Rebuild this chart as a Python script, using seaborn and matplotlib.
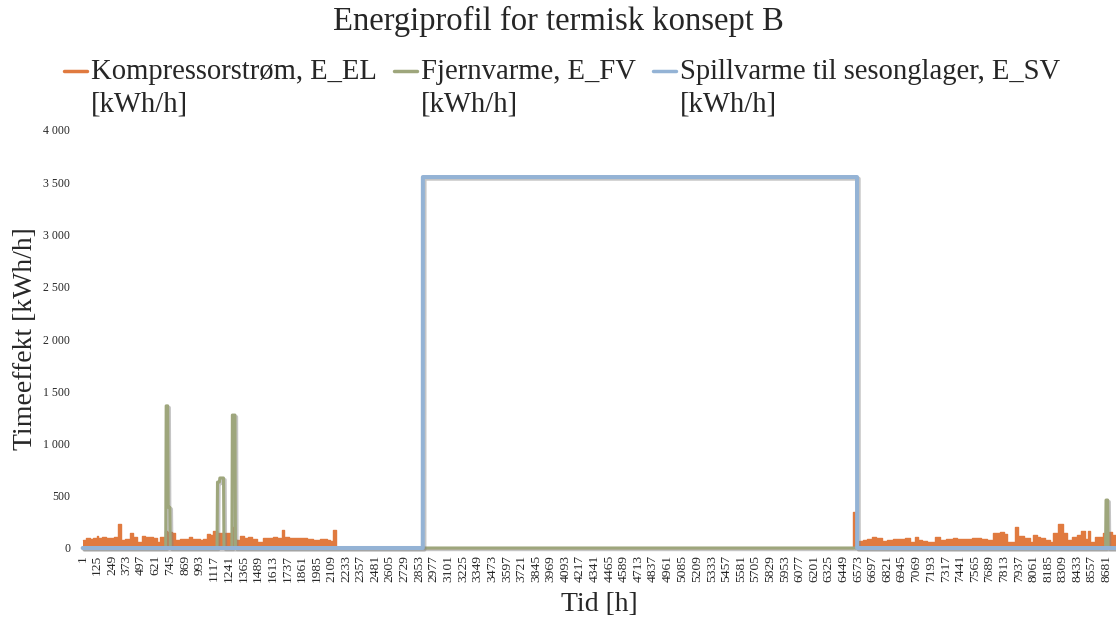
import matplotlib
matplotlib.use("Agg")
import matplotlib.pyplot as plt
import matplotlib.patheffects as pe
from matplotlib.legend_handler import HandlerLine2D
from matplotlib.ticker import FuncFormatter
import seaborn as sns
import pandas as pd

# ---------------- data ----------------
# Kompressorstrøm E_EL: envelope of the hourly profile (step values starting at given hour)
el_hours = [1, 30, 60, 90, 120, 135, 162, 200, 233, 270, 303, 326, 360, 402, 425, 464, 501,
            530, 560, 600, 628, 657, 699, 713, 755, 784, 830, 868, 900, 930, 995, 1020,
            1052, 1080, 1108, 1137, 1207, 1250, 1275, 1290, 1301, 1335, 1370, 1400, 1440,
            1476, 1532, 1570, 1617, 1650, 1688, 1707, 1750, 1787, 1843, 1900, 1956, 2010,
            2069, 2100, 2120, 2148, 6535, 6550, 6584, 6620, 6646, 6688, 6730, 6773, 6820,
            6872, 6920, 6971, 7013, 7056, 7084, 7120, 7155, 7225, 7268, 7320, 7381, 7409,
            7460, 7500, 7540, 7578, 7620, 7663, 7720, 7776, 7810, 7833, 7903, 7931, 7980,
            8030, 8059, 8090, 8115, 8160, 8200, 8228, 8271, 8313, 8341, 8384, 8430, 8468,
            8497, 8525, 8539, 8581, 8620, 8652, 8700, 8730, 8760]
el_values = [80, 92, 85, 96, 115, 93, 110, 98, 100, 105, 228, 77, 90, 147, 110, 60, 118,
             105, 110, 95, 60, 110, 160, 150, 140, 77, 90, 83, 110, 83, 77, 88,
             135, 125, 163, 140, 147, 120, 205, 90, 77, 118, 100, 105, 90,
             60, 93, 100, 110, 98, 170, 110, 95, 100, 93, 85, 77, 88,
             80, 70, 170, 0, 347, 0, 70, 80, 86, 102, 95, 70, 78,
             83, 90, 92, 60, 102, 76, 70, 60, 102, 76, 82, 92, 83,
             88, 90, 95, 99, 85, 76, 140, 156, 130, 60, 197, 118, 100,
             60, 124, 110, 92, 80, 60, 146, 226, 146, 76, 108, 120, 166,
             83, 166, 60, 102, 110, 140, 150, 120, 100]

# Fjernvarme E_FV
fv_hours = [1, 705, 709, 722, 726, 740, 744, 1140, 1144, 1160, 1164, 1195, 1199,
            1266, 1270, 1292, 1296, 8672, 8676, 8690, 8694, 8760]
fv_values = [0, 0, 1360, 1360, 390, 390, 0, 0, 631, 631, 670, 670, 0,
             0, 1272, 1272, 0, 0, 459, 459, 0, 0]

# Spillvarme til sesonglager E_SV
sv_hours = [1, 2884, 2885, 6565, 6566, 8760]
sv_values = [0, 0, 3550, 3550, 0, 0]

tick_hours = list(range(1, 8761, 124))
tick_labels = [str(h) for h in tick_hours]

series_names = ["Kompressorstrøm, E_EL\n[kWh/h]",
                "Fjernvarme, E_FV\n[kWh/h]",
                "Spillvarme til sesonglager, E_SV\n[kWh/h]"]
colors = ["#E07A3F", "#9EA67C", "#94B3D5"]

# ---------------- plot ----------------
sns.set_theme(style="white")
plt.rcParams["font.family"] = ["Liberation Serif", "DejaVu Serif"]

W, H = 1116, 621
fig = plt.figure(figsize=(W / 100, H / 100), dpi=100)
left_px, right_px, top_px, bot_px = 82.6, 1116, 130, 548
ax = fig.add_axes([left_px / W, 1 - bot_px / H, (right_px - left_px) / W, (bot_px - top_px) / H])

df_el = pd.DataFrame({"h": el_hours, "v": el_values})
df_fv = pd.DataFrame({"h": fv_hours, "v": fv_values})
df_sv = pd.DataFrame({"h": sv_hours, "v": sv_values})

shadow = [pe.SimpleLineShadow(offset=(1.2, -1.2), shadow_color="#7f7f7f", alpha=0.45), pe.Normal()]

ax.fill_between(df_el["h"], 0, df_el["v"], step="post", color=colors[0], linewidth=0, zorder=2)
sns.lineplot(data=df_el, x="h", y="v", ax=ax, estimator=None, sort=False,
             drawstyle="steps-post", color=colors[0], linewidth=1.0,
             label=series_names[0], clip_on=False, zorder=3)
sns.lineplot(data=df_fv, x="h", y="v", ax=ax, estimator=None, sort=False,
             color=colors[1], linewidth=2.2, label=series_names[1], clip_on=False,
             zorder=4, path_effects=shadow)
sns.lineplot(data=df_sv, x="h", y="v", ax=ax, estimator=None, sort=False,
             color=colors[2], linewidth=2.9, label=series_names[2], clip_on=False,
             zorder=5, path_effects=shadow)

ax.set_xlim(0.5, 8760.5)
ax.set_ylim(0, 4000)
ax.set_yticks(range(0, 4001, 500))
ax.yaxis.set_major_formatter(FuncFormatter(lambda v, p: f"{int(v):,}".replace(",", " ")))
ax.set_xticks(tick_hours)
ax.set_xticklabels(tick_labels, rotation=90, fontsize=9.7)
ax.tick_params(axis="y", labelsize=8.5, length=0, pad=9)
ax.tick_params(axis="x", length=0, pad=5)
for s in ax.spines.values():
    s.set_visible(False)
ax.grid(False)

ax.set_xlabel("Tid [h]", fontsize=20, labelpad=7)
ax.set_ylabel("Timeeffekt [kWh/h]", fontsize=20, labelpad=4)

fig.text(0.5, 1 - 21 / H, "Energiprofil for termisk konsept B", ha="center", va="center", fontsize=23.5)

handles, labels = ax.get_legend_handles_labels()
ax.get_legend().remove()


class UpLine(HandlerLine2D):
    def create_artists(self, legend, orig_handle, xdescent, ydescent, width, height, fontsize, trans):
        arts = super().create_artists(legend, orig_handle, xdescent, ydescent, width, height, fontsize, trans)
        for a in arts:
            if hasattr(a, "get_ydata"):
                a.set_ydata([y + 0.6 * fontsize for y in a.get_ydata()])
            a.set_path_effects([])
        return arts


leg = fig.legend(handles, labels, loc="upper left", bbox_to_anchor=(64 / W, 1 - 59 / H),
                 ncol=3, frameon=False, fontsize=20.6, handlelength=0.82, handletextpad=0.12,
                 columnspacing=0.6, borderpad=0, borderaxespad=0,
                 handler_map={h: UpLine() for h in handles})
for t in leg.get_texts():
    t.set_linespacing(1.3)
for h in leg.legend_handles:
    h.set_linewidth(2.5)

fig.savefig("out.png", dpi=100)
